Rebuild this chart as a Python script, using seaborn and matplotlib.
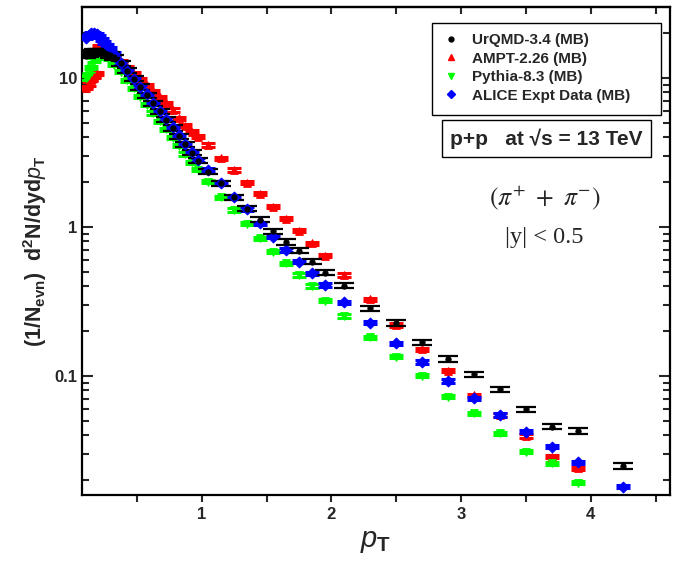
import numpy as np
import pandas as pd
import matplotlib
matplotlib.use("Agg")
import matplotlib.pyplot as plt
import seaborn as sns
from matplotlib.lines import Line2D
from matplotlib.patches import Rectangle
from matplotlib.ticker import LogLocator, NullFormatter, FixedLocator, MultipleLocator

# pT bin centres
pt = [0.11, 0.13, 0.15, 0.17, 0.19, 0.21, 0.23, 0.25, 0.27, 0.29,
      0.325, 0.375, 0.425, 0.475, 0.525, 0.575, 0.625, 0.675, 0.725, 0.775,
      0.825, 0.875, 0.925, 0.975,
      1.05, 1.15, 1.25, 1.35, 1.45, 1.55, 1.65, 1.75, 1.85, 1.95,
      2.1, 2.3, 2.5, 2.7, 2.9, 3.1, 3.3, 3.5, 3.7, 3.9, 4.25]

urqmd = [14.1, 14.5, 14.8, 15.0, 15.1, 15.1, 15.0, 14.8, 14.6, 14.3,
         13.8, 12.6, 11.2, 9.89, 8.71, 7.67, 6.76, 5.96, 5.25, 4.62,
         4.07, 3.59, 3.16, 2.79,
         2.35, 1.96, 1.58, 1.33, 1.12, 0.933, 0.794, 0.692, 0.585, 0.493,
         0.404, 0.285, 0.227, 0.169, 0.130, 0.1026, 0.0814, 0.0598, 0.0457, 0.0428, 0.0249]

ampt = [8.61, 9.12, 9.77, 10.2, 10.7, 16.2, 16.0, 15.5, 15.0, 14.5,
        14.0, 12.9, 11.7, 10.7, 9.77, 8.91, 8.13, 7.41, 6.76, 6.10,
        5.37, 4.79, 4.37, 4.04,
        3.55, 2.89, 2.41, 1.98, 1.67, 1.37, 1.14, 0.944, 0.776, 0.643,
        0.476, 0.327, 0.220, 0.151, 0.1086, 0.0742, 0.0547, 0.0396, 0.0287, 0.0240, np.nan]

pythia = [10.0, 10.5, 11.7, 13.2, 13.8, 14.1, 14.1, 14.0, 13.8, 13.5,
          12.3, 11.0, 9.66, 8.51, 7.50, 6.61, 5.82, 5.13, 4.52, 3.98,
          3.51, 3.09, 2.72, 2.42,
          2.01, 1.58, 1.30, 1.05, 0.839, 0.682, 0.570, 0.476, 0.402, 0.320,
          0.253, 0.182, 0.135, 0.1004, 0.0726, 0.0562, 0.0412, 0.0311, 0.0259, 0.0192, np.nan]

alice = [18.6, 19.3, 20.0, 20.0, 19.7, 19.1, 18.2, 17.4, 16.6, 15.8,
         14.5, 12.6, 11.2, 9.89, 8.71, 7.76, 6.84, 6.03, 5.31, 4.68,
         4.12, 3.63, 3.20, 2.82,
         2.42, 1.98, 1.58, 1.32, 1.06, 0.861, 0.701, 0.585, 0.489, 0.408,
         0.313, 0.228, 0.166, 0.124, 0.0925, 0.0709, 0.0547, 0.0423, 0.0336, 0.0263, 0.0181]

labels = ["UrQMD-3.4 (MB)", "AMPT-2.26 (MB)", "Pythia-8.3 (MB)", "ALICE Expt Data (MB)"]
colors = ["black", "#ff0000", "#00ff00", "#0000ff"]
markers = ["o", "^", "v", "D"]

df = pd.DataFrame({"pt": pt, labels[0]: urqmd, labels[1]: ampt,
                   labels[2]: pythia, labels[3]: alice})
long = df.melt(id_vars="pt", var_name="model", value_name="y").dropna()

sns.set_style("ticks")
plt.rcParams["font.family"] = ["Liberation Sans", "DejaVu Sans"]
plt.rcParams["mathtext.fontset"] = "custom"
plt.rcParams["mathtext.rm"] = "Liberation Sans:bold"
plt.rcParams["mathtext.bf"] = "Liberation Sans:bold"
plt.rcParams["mathtext.it"] = "Liberation Sans:italic"

fig = plt.figure(figsize=(6.73, 5.70), dpi=100)
ax = fig.add_axes([0.1218, 0.1316, 0.8737, 0.8561])

# draw order: pythia, alice, ampt, urqmd
for i in [2, 3, 1, 0]:
    sub = long[long["model"] == labels[i]]
    if i == 0:
        ax.errorbar(sub["pt"], sub["y"], yerr=sub["y"] * 0.04, fmt="none",
                    ecolor=colors[i], elinewidth=1.0, capsize=7.5, capthick=1.6, zorder=5)
    else:
        ax.errorbar(sub["pt"], sub["y"], yerr=sub["y"] * 0.025, fmt="none",
                    ecolor=colors[i], elinewidth=2.0, capsize=5, capthick=2.2, zorder=2 + i)
    sns.scatterplot(data=sub, x="pt", y="y", color=colors[i], marker=markers[i],
                    s=30 if i else 14, edgecolor=colors[i], linewidth=0.8,
                    ax=ax, legend=False, zorder=3 + i if i else 6)

ax.set_yscale("log")
ax.set_xlim(0.077, 4.61)
ax.set_ylim(0.0159, 29.96)

ax.xaxis.set_major_locator(FixedLocator([1, 2, 3, 4]))
ax.xaxis.set_minor_locator(MultipleLocator(0.5))
ax.yaxis.set_minor_locator(LogLocator(base=10, subs=np.arange(2, 10)))
ax.yaxis.set_minor_formatter(NullFormatter())
ax.set_yticks([0.1, 1, 10])
ax.set_yticklabels(["0.1", "1", "10"])

ax.tick_params(axis="both", which="both", labelsize=12, width=1.5)
ax.tick_params(axis="x", which="major", direction="out", length=5, top=False)
ax.tick_params(axis="x", which="minor", direction="out", length=5, top=False)
ax.tick_params(axis="y", which="major", direction="in", length=8, right=True)
ax.tick_params(axis="y", which="minor", direction="in", length=5, right=True)
for lab in ax.get_xticklabels() + ax.get_yticklabels():
    lab.set_fontweight("bold")
for sp in ax.spines.values():
    sp.set_linewidth(1.6)
    sp.set_color("black")

# top axis ticks point inward
top = ax.secondary_xaxis("top")
top.xaxis.set_major_locator(FixedLocator([1, 2, 3, 4]))
top.xaxis.set_minor_locator(MultipleLocator(0.5))
top.tick_params(axis="x", which="both", direction="in", length=5, width=1.5, labeltop=False)
top.spines["top"].set_linewidth(1.6)

ax.set_xlabel(r"$\mathit{p}_{\mathbf{T}}$", fontsize=21, labelpad=4)
ax.set_ylabel(r"(1/N$_{\mathbf{evn}}$)  d$^{\mathbf{2}}$N/dyd$\mathit{p}_{\mathbf{T}}$",
              fontsize=15.5, fontweight="bold", labelpad=4)

# legend with a hand-placed frame
ax.add_patch(Rectangle((0.595, 0.779), 0.39, 0.188, transform=ax.transAxes,
                       facecolor="white", edgecolor="black", linewidth=1.0, zorder=8))
handles = [Line2D([], [], linestyle="none", marker=markers[i], color=colors[i],
                  markersize=4 if i else 3.5) for i in range(4)]
leg = ax.legend(handles, labels, loc="upper left", bbox_to_anchor=(0.615, 0.9467),
                borderaxespad=0, borderpad=0, frameon=False, handlelength=1.0,
                handletextpad=0.88, labelspacing=0.3,
                prop={"family": "Liberation Sans", "weight": "bold", "size": 11})
leg.set_zorder(9)

ax.text(0.79, 0.7305, "p+p   at \u221as = 13 TeV", transform=ax.transAxes,
        ha="center", va="center", fontsize=15, fontweight="bold",
        bbox=dict(boxstyle="square,pad=0.38", facecolor="white", edgecolor="black", linewidth=1.0))
ax.text(0.787, 0.609, r"$(\pi^{+}\ +\ \pi^{-})$", transform=ax.transAxes,
        ha="center", va="center", fontsize=18.5, math_fontfamily="stix")
ax.text(0.787, 0.527, "|y| < 0.5", transform=ax.transAxes, ha="center", va="center",
        fontsize=17.5, family="Liberation Serif")

fig.savefig("out.png", dpi=100)
